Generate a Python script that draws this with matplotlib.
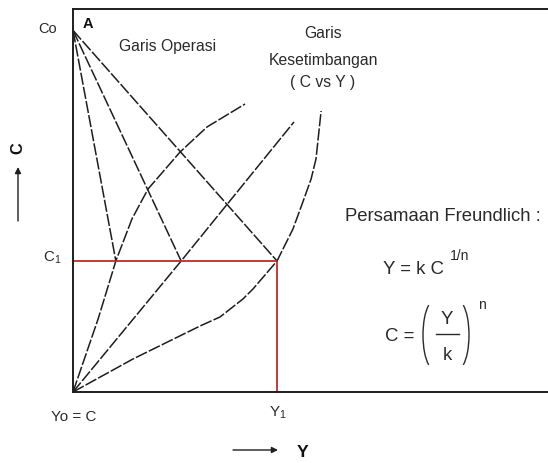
import matplotlib
matplotlib.use("Agg")
import matplotlib.pyplot as plt
from matplotlib import font_manager
from matplotlib.font_manager import FontProperties
from matplotlib.patches import Arc

# ---- data (Y = adsorbed amount, C = concentration; C1 and Y1 scaled to 1) ----
C0 = 2.76
C1 = 1.0
Y1 = 1.0

# operating lines start at (0, C0) and end on C = C1 at these Y values
op_end_y = [0.21, 0.53, 1.00]

# equilibrium curves (C vs Y)
eq1_y = [0.0, 0.123, 0.21, 0.289, 0.368, 0.525, 0.657, 0.843]
eq1_c = [0.0, 0.557, 1.00, 1.321, 1.550, 1.832, 2.023, 2.198]

eq2_y = [0.0, 0.53, 1.083]
eq2_c = [0.0, 1.00, 2.061]

eq3_y = [0.0, 0.294, 0.623, 0.721, 0.833, 0.882, 1.0, 1.078, 1.123, 1.167, 1.191, 1.216]
eq3_c = [0.0, 0.252, 0.504, 0.573, 0.710, 0.786, 1.0, 1.244, 1.435, 1.626, 1.779, 2.145]

x_max = 2.328
y_max = 2.927


def pick_family(names):
    for n in names:
        try:
            font_manager.findfont(FontProperties(family=n), fallback_to_default=False)
            return n
        except ValueError:
            continue
    return "DejaVu Sans"


FAM = pick_family(["Liberation Sans Narrow", "Arial Narrow", "Liberation Sans"])
K = 1.0 if "Narrow" in FAM else 0.84
plt.rcParams["font.family"] = [FAM, "DejaVu Sans"]
plt.rcParams["mathtext.default"] = "regular"

INK = "#1e1e1e"
TXT = "#2a2a2a"
RED = "#c02a2a"

fig = plt.figure(figsize=(5.48, 4.64), dpi=100)
fig.patch.set_facecolor("white")

ax = fig.add_axes([73 / 548, (464 - 393) / 464, (548 - 73) / 548, (393 - 9.5) / 464])
ax.set_xlim(0, x_max)
ax.set_ylim(0, y_max)
ax.set_xticks([])
ax.set_yticks([])
ax.spines["right"].set_visible(False)
for s in ("left", "top", "bottom"):
    ax.spines[s].set_linewidth(1.4)
    ax.spines[s].set_color(INK)

dash = dict(color=INK, lw=1.1, dashes=(8, 1.4))

# operating lines
for yend in op_end_y:
    ax.plot([0, yend], [C0, C1], **dash)

# equilibrium lines
ax.plot(eq1_y, eq1_c, **dash)
ax.plot(eq2_y, eq2_c, **dash)
ax.plot(eq3_y, eq3_c, **dash)

# C1 / Y1 guide lines
ax.plot([0, Y1], [C1, C1], color=RED, lw=1.3, solid_capstyle="butt")
ax.plot([Y1, Y1], [0, C1], color=RED, lw=1.3, solid_capstyle="butt")

# ---- annotation layer in pixel units ----
ov = fig.add_axes([0, 0, 1, 1], zorder=5)
ov.set_xlim(0, 548)
ov.set_ylim(464, 0)
ov.axis("off")
ov.patch.set_alpha(0)


def t(x, y, s, size, ha="center", va="center", color=TXT, **kw):
    ov.text(x, y, s, fontsize=size * K, ha=ha, va=va, color=color, **kw)


t(48, 29, "Co", 12.5)
t(88, 24, "A", 12.5, color="#111", fontweight="bold")
t(168, 47, "Garis Operasi", 13.5)
t(323, 34, "Garis", 13.5)
t(323, 61, "Kesetimbangan", 13.5)
t(323, 82, "( C vs Y )", 13.5)

t(345, 217, "Persamaan Freundlich :", 15.9, ha="left")
t(383, 270, "Y = k C", 16, ha="left")
t(450, 256, "1/n", 12, ha="left")

t(385, 337, "C =", 16, ha="left")
t(447, 320, "Y", 16)
t(447, 356, "k", 16)
ov.plot([436, 459], [335, 335], color=TXT, lw=1.0)
ov.add_patch(Arc((434, 336), 22, 68, theta1=100, theta2=260, color=TXT, lw=1.0))
ov.add_patch(Arc((458, 336), 22, 68, theta1=-80, theta2=80, color=TXT, lw=1.0))
t(482, 305, "n", 12)

t(43, 258, r"$\mathregular{C_1}$", 13, ha="left")
t(74, 417, "Yo = C", 13)
t(278, 413, r"$\mathregular{Y_1}$", 13)

# axis direction labels with arrows
t(18, 148, "C", 14, rotation=90, color="#111", fontweight="bold")
ov.annotate("", xy=(18, 168), xytext=(18, 222),
            arrowprops=dict(arrowstyle="-|>", color=INK, lw=1.0,
                            mutation_scale=9, shrinkA=0, shrinkB=0))
t(303, 453, "Y", 15, color="#111", fontweight="bold")
ov.annotate("", xy=(278, 451), xytext=(233, 451),
            arrowprops=dict(arrowstyle="-|>", color=INK, lw=1.0,
                            mutation_scale=9, shrinkA=0, shrinkB=0))

fig.savefig("out.png", dpi=100, facecolor="white")
